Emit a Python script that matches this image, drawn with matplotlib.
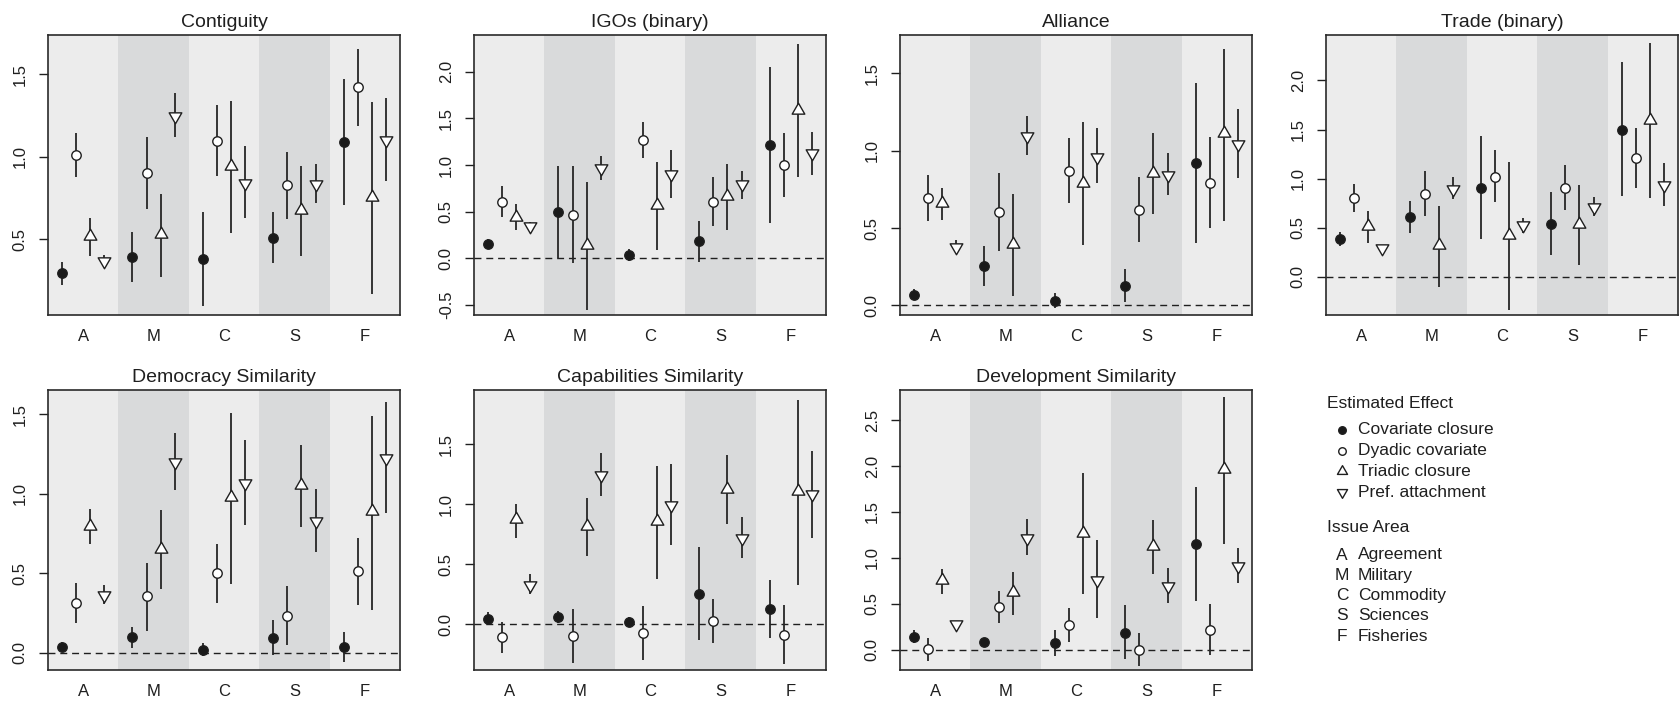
import matplotlib
matplotlib.use("Agg")
import numpy as np
import matplotlib.pyplot as plt
from matplotlib.lines import Line2D
from matplotlib.path import Path
from matplotlib.ticker import MultipleLocator, FormatStrFormatter

plt.rcParams['font.family'] = ['Liberation Sans', 'DejaVu Sans']
plt.rcParams['axes.unicode_minus'] = False

areas = ['A', 'M', 'C', 'S', 'F']
area_names = ['Agreement', 'Military', 'Commodity', 'Sciences', 'Fisheries']
effects = ['Covariate closure', 'Dyadic covariate', 'Triadic closure', 'Pref. attachment']
titles = ['Contiguity', 'IGOs (binary)', 'Alliance', 'Trade (binary)',
          'Democracy Similarity', 'Capabilities Similarity', 'Development Similarity']

# rows: covariate closure, dyadic covariate, triadic closure, pref. attachment
# cols: A, M, C, S, F
contig_est = [[0.294, 0.391, 0.379, 0.510, 1.087],
              [1.010, 0.899, 1.097, 0.829, 1.419],
              [0.522, 0.530, 0.946, 0.677, 0.754],
              [0.371, 1.248, 0.843, 0.835, 1.101]]
contig_lo = [[0.224, 0.240, 0.097, 0.355, 0.706],
             [0.879, 0.681, 0.885, 0.623, 1.188],
             [0.399, 0.270, 0.540, 0.399, 0.169],
             [0.345, 1.117, 0.627, 0.718, 0.853]]
contig_hi = [[0.361, 0.542, 0.665, 0.663, 1.468],
             [1.141, 1.121, 1.310, 1.030, 1.651],
             [0.627, 0.774, 1.337, 0.946, 1.329],
             [0.405, 1.387, 1.065, 0.954, 1.353]]

igo_est = [[0.150, 0.493, 0.036, 0.182, 1.214],
           [0.607, 0.468, 1.264, 0.607, 0.996],
           [0.446, 0.143, 0.571, 0.671, 1.589],
           [0.346, 0.964, 0.900, 0.793, 1.125]]
igo_lo = [[0.107, 0.000, -0.025, -0.043, 0.375],
          [0.439, -0.054, 1.071, 0.350, 0.654],
          [0.304, -0.554, 0.089, 0.304, 0.868],
          [0.300, 0.839, 0.643, 0.639, 0.893]]
igo_hi = [[0.204, 0.989, 0.096, 0.404, 2.054],
          [0.779, 0.989, 1.457, 0.868, 1.339],
          [0.582, 0.821, 1.036, 1.011, 2.296],
          [0.390, 1.100, 1.161, 0.936, 1.357]]

alliance_est = [[0.067, 0.254, 0.030, 0.127, 0.918],
                [0.694, 0.603, 0.871, 0.616, 0.793],
                [0.659, 0.394, 0.793, 0.858, 1.112],
                [0.379, 1.095, 0.961, 0.843, 1.043]]
alliance_lo = [[0.034, 0.127, -0.019, 0.024, 0.401],
               [0.543, 0.353, 0.664, 0.407, 0.502],
               [0.552, 0.060, 0.390, 0.588, 0.547],
               [0.343, 0.970, 0.789, 0.713, 0.825]]
alliance_hi = [[0.106, 0.384, 0.078, 0.235, 1.435],
               [0.843, 0.853, 1.080, 0.832, 1.086],
               [0.761, 0.718, 1.183, 1.112, 1.657],
               [0.422, 1.226, 1.149, 0.983, 1.269]]

trade_est = [[0.382, 0.604, 0.904, 0.539, 1.495],
             [0.799, 0.843, 1.020, 0.904, 1.208],
             [0.512, 0.317, 0.427, 0.536, 1.597],
             [0.290, 0.898, 0.522, 0.710, 0.932]]
trade_lo = [[0.314, 0.444, 0.386, 0.215, 0.819],
            [0.659, 0.614, 0.758, 0.676, 0.904],
            [0.341, -0.109, -0.341, 0.119, 0.802],
            [0.249, 0.792, 0.444, 0.614, 0.724]]
trade_hi = [[0.451, 0.768, 1.433, 0.863, 2.184],
            [0.945, 1.075, 1.287, 1.137, 1.512],
            [0.666, 0.724, 1.171, 0.939, 2.379],
            [0.324, 1.017, 0.597, 0.812, 1.154]]

democ_est = [[0.040, 0.099, 0.019, 0.097, 0.036],
             [0.313, 0.355, 0.500, 0.235, 0.513],
             [0.796, 0.655, 0.979, 1.053, 0.891],
             [0.366, 1.200, 1.069, 0.828, 1.227]]
democ_lo = [[0.008, 0.029, -0.019, -0.013, -0.059],
            [0.187, 0.141, 0.313, 0.050, 0.303],
            [0.681, 0.403, 0.433, 0.790, 0.271],
            [0.307, 1.021, 0.803, 0.634, 0.880]]
democ_hi = [[0.067, 0.166, 0.061, 0.204, 0.130],
            [0.439, 0.565, 0.687, 0.418, 0.723],
            [0.901, 0.895, 1.506, 1.307, 1.489],
            [0.429, 1.384, 1.338, 1.032, 1.574]]

capab_est = [[0.042, 0.058, 0.014, 0.251, 0.128],
             [-0.111, -0.097, -0.070, 0.028, -0.089],
             [0.872, 0.816, 0.858, 1.128, 1.109],
             [0.329, 1.242, 0.992, 0.719, 1.081]]
capab_lo = [[-0.011, 0.008, -0.028, -0.136, -0.117],
            [-0.242, -0.326, -0.298, -0.159, -0.334],
            [0.719, 0.565, 0.376, 0.830, 0.323],
            [0.253, 1.067, 0.663, 0.552, 0.719]]
capab_hi = [[0.097, 0.111, 0.056, 0.643, 0.370],
            [0.014, 0.125, 0.148, 0.209, 0.156],
            [0.997, 1.053, 1.318, 1.407, 1.866],
            [0.421, 1.429, 1.331, 0.891, 1.443]]

devel_est = [[0.142, 0.080, 0.077, 0.186, 1.152],
             [0.004, 0.463, 0.270, 0.000, 0.215],
             [0.754, 0.627, 1.272, 1.126, 1.964],
             [0.277, 1.217, 0.754, 0.689, 0.915]]
devel_lo = [[0.069, 0.033, -0.066, -0.106, 0.532],
            [-0.124, 0.288, 0.087, -0.175, -0.058],
            [0.605, 0.372, 0.605, 0.824, 1.155],
            [0.226, 1.035, 0.343, 0.507, 0.725]]
devel_hi = [[0.215, 0.124, 0.215, 0.488, 1.771],
            [0.131, 0.641, 0.452, 0.179, 0.499],
            [0.878, 0.845, 1.921, 1.410, 2.748],
            [0.317, 1.418, 1.192, 0.889, 1.108]]

ylims = [(0.042, 1.736), (-0.607, 2.393), (-0.062, 1.748), (-0.392, 2.464),
         (-0.107, 1.651), (-0.382, 1.950), (-0.222, 2.828)]

panels = [(contig_est, contig_lo, contig_hi),
          (igo_est, igo_lo, igo_hi),
          (alliance_est, alliance_lo, alliance_hi),
          (trade_est, trade_lo, trade_hi),
          (democ_est, democ_lo, democ_hi),
          (capab_est, capab_lo, capab_hi),
          (devel_est, devel_lo, devel_hi)]

# layout in pixels of the 1680x707 canvas
W, H = 1680, 707
def box(x, y, w, h):
    return [x / W, 1 - (y + h) / H, w / W, h / H]

codes = [Path.MOVETO, Path.LINETO, Path.LINETO, Path.CLOSEPOLY]
tri_up = Path([(0, 1), (-0.866, -0.5), (0.866, -0.5), (0, 1)], codes)
tri_dn = Path([(0, -1), (-0.866, 0.5), (0.866, 0.5), (0, -1)], codes)
styles = [dict(marker='o', mfc='#1a1a1a', ms=6.8),
          dict(marker='o', mfc='white', ms=6.8),
          dict(marker=tri_up, mfc='white', ms=10.5),
          dict(marker=tri_dn, mfc='white', ms=10.5)]
offsets = [-0.3, -0.1, 0.1, 0.3]
light, dark = '#ececec', '#d9dadb'
ink = '#1f1f1f'

fig = plt.figure(figsize=(16.8, 7.07), dpi=100)
x = np.arange(1, 6)

for i, (title, (est, lo, hi)) in enumerate(zip(titles, panels)):
    r, c = divmod(i, 4)
    ax = fig.add_axes(box(48 + 426 * c, 35 + 355 * r, 352, 280))
    for k in range(5):
        ax.axvspan(k + 0.5, k + 1.5, color=light if k % 2 == 0 else dark, lw=0, zorder=0)
    ax.axhline(0, ls=(0, (5, 3.5)), color=ink, lw=1.0, zorder=1)
    for j in range(4):
        xs = x + offsets[j]
        ax.vlines(xs, lo[j], hi[j], color='#262626', lw=1.3, zorder=2)
        ax.plot(xs, est[j], ls='none', mec=ink, mew=1.0, zorder=3, **styles[j])
    ax.set_xlim(0.5, 5.5)
    ax.set_ylim(*ylims[i])
    ax.set_xticks(x)
    ax.set_xticklabels(areas)
    ax.yaxis.set_major_locator(MultipleLocator(0.5))
    ax.yaxis.set_major_formatter(FormatStrFormatter('%.1f'))
    ax.tick_params(axis='x', length=0, pad=10, labelsize=12, colors=ink)
    ax.tick_params(axis='y', length=6.5, width=1.0, pad=8, labelsize=12,
                   labelrotation=90, colors=ink)
    for lab in ax.get_yticklabels():
        lab.set_va('center')
    for s in ax.spines.values():
        s.set_linewidth(1.2)
        s.set_color('#2a2a2a')
    ax.set_title(title, fontsize=14, pad=6, color=ink)

# legend block
def fx(px):
    return px / W

def fy(py):
    return 1 - py / H

fig.text(fx(1327), fy(403), 'Estimated Effect', fontsize=12.5, va='center', ha='left', color=ink)
for j, name in enumerate(effects):
    yy = 430 + 20.7 * j
    ms = styles[j]['ms'] * 0.8
    fig.add_artist(Line2D([fx(1342)], [fy(yy)], transform=fig.transFigure, ls='none',
                          marker=styles[j]['marker'], mfc=styles[j]['mfc'], mec=ink,
                          mew=1.0, ms=ms))
    fig.text(fx(1358), fy(yy), name, fontsize=12.5, va='center', ha='left', color=ink)

fig.text(fx(1327), fy(528), 'Issue Area', fontsize=12.5, va='center', ha='left', color=ink)
for k, (a, name) in enumerate(zip(areas, area_names)):
    yy = 555 + 20.3 * k
    fig.text(fx(1342), fy(yy), a, fontsize=12.5, va='center', ha='center', color=ink)
    fig.text(fx(1358), fy(yy), name, fontsize=12.5, va='center', ha='left', color=ink)

fig.savefig('out.png', dpi=100)
